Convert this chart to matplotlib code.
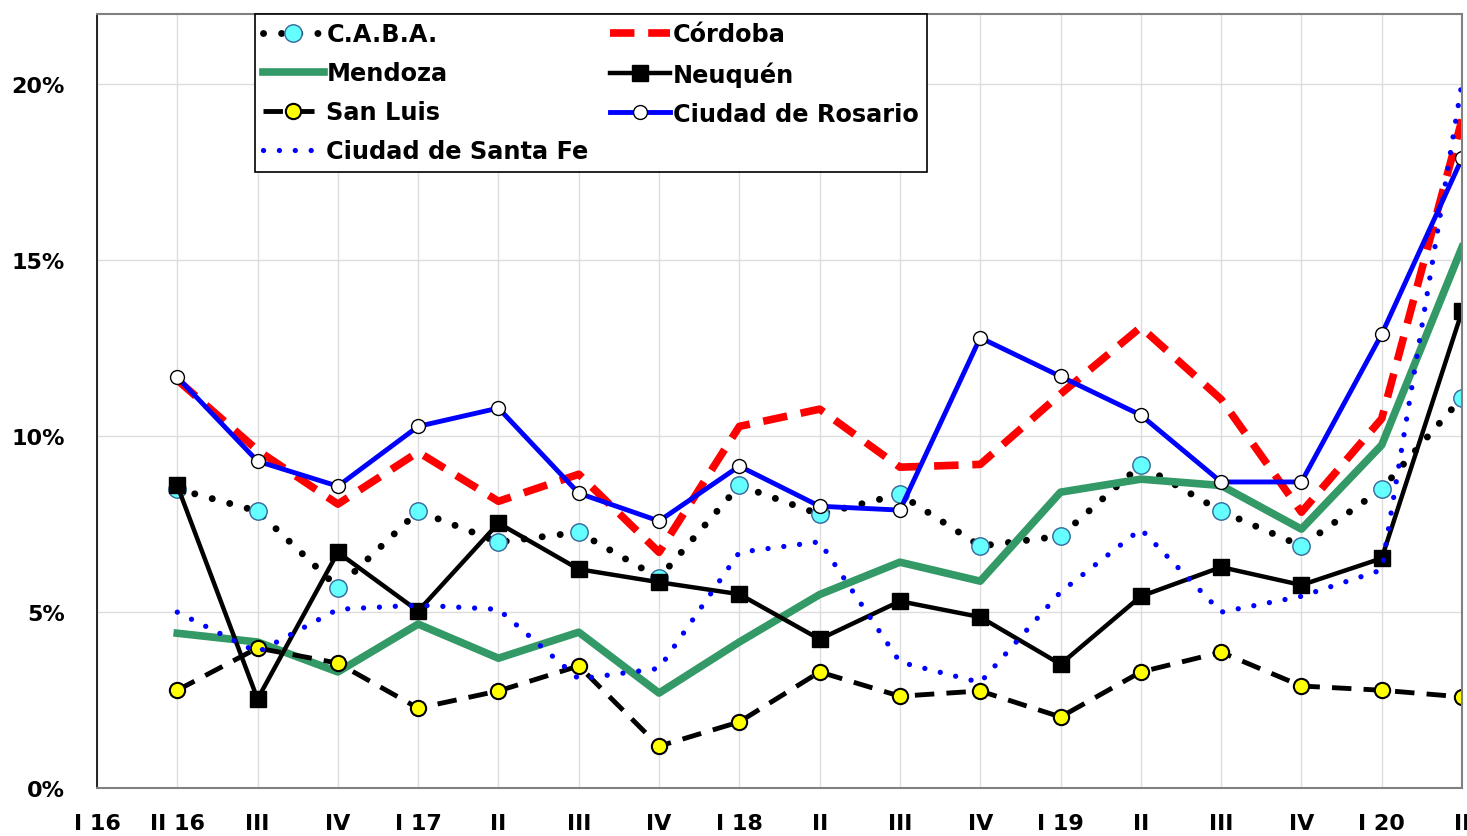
import numpy as np
import matplotlib
matplotlib.use('Agg')
import matplotlib.pyplot as plt
from matplotlib.ticker import FuncFormatter

# x categories (quarters)
quarters = ['I 16', 'II 16', 'III', 'IV', 'I 17', 'II', 'III', 'IV', 'I 18',
            'II', 'III', 'IV', 'I 19', 'II', 'III', 'IV', 'I 20', 'II']

# series values (%), from II 16 to II 20
caba = [8.5, 7.87, 5.7, 7.87, 6.99, 7.27, 5.97, 8.6, 7.78, 8.35, 6.88, 7.16, 9.18, 7.87, 6.88, 8.5, 11.1]
cordoba = [11.6, 9.6, 8.07, 9.55, 8.15, 8.92, 6.7, 10.28, 10.77, 9.12, 9.2, 11.2, 13.1, 11.05, 7.84, 10.5, 19.0]
mendoza = [4.4, 4.15, 3.3, 4.66, 3.69, 4.43, 2.7, 4.15, 5.5, 6.42, 5.88, 8.41, 8.78, 8.6, 7.36, 9.75, 15.37]
neuquen = [8.6, 2.53, 6.7, 5.03, 7.53, 6.22, 5.85, 5.51, 4.23, 5.31, 4.86, 3.52, 5.45, 6.28, 5.77, 6.53, 13.55]
san_luis = [2.78, 3.98, 3.55, 2.27, 2.76, 3.47, 1.19, 1.88, 3.3, 2.61, 2.76, 2.02, 3.3, 3.86, 2.9, 2.78, 2.59]
rosario = [11.68, 9.29, 8.58, 10.28, 10.8, 8.38, 7.59, 9.15, 8.01, 7.9, 12.8, 11.7, 10.6, 8.7, 8.7, 12.9, 17.9]
santa_fe = [5.0, 3.86, 5.08, 5.2, 5.08, 3.1, 3.4, 6.7, 7.0, 3.58, 3.0, 5.57, 7.36, 5.0, 5.45, 6.2, 20.05]

x = np.arange(1, len(quarters))

fig = plt.figure(figsize=(14.67, 8.37), dpi=100)
ax = fig.add_axes([0.0661, 0.0573, 0.9305, 0.9247])

h_caba, = ax.plot(x, caba, color='black', lw=5, linestyle=(0, (0.01, 2.6)),
                  dash_capstyle='round', marker='o', ms=12.5, mfc='#66FFFF',
                  mec='#336699', mew=1, label='C.A.B.A.')
h_cba, = ax.plot(x, cordoba, color='#FF0000', lw=5.5, linestyle=(0, (3.2, 1.8)),
                 label='Córdoba')
h_mza, = ax.plot(x, mendoza, color='#339966', lw=5.5, label='Mendoza')
h_nqn, = ax.plot(x, neuquen, color='black', lw=3.2, marker='s', ms=12,
                 mfc='black', mec='black', label='Neuquén')
h_sl, = ax.plot(x, san_luis, color='black', lw=3.5, linestyle=(0, (4, 2.5)),
                marker='o', ms=11, mfc='#FFFF00', mec='black', mew=1.5,
                label='San Luis')
h_ros, = ax.plot(x, rosario, color='#0000FF', lw=3.5, marker='o', ms=10,
                 mfc='white', mec='black', mew=1, label='Ciudad de Rosario')
h_sf, = ax.plot(x, santa_fe, color='#0000FF', lw=3.8, linestyle=(0, (0.01, 3.0)),
                dash_capstyle='round', label='Ciudad de Santa Fe')

ax.set_xlim(0, len(quarters) - 1)
ax.set_ylim(0, 22)
ax.set_xticks(np.arange(len(quarters)))
ax.set_xticklabels(quarters)
ax.set_yticks([0, 5, 10, 15, 20])
ax.yaxis.set_major_formatter(FuncFormatter(lambda v, p: '%d%%' % v))
ax.tick_params(axis='both', length=0, labelsize=16)
ax.tick_params(axis='x', pad=18)
ax.tick_params(axis='y', pad=23)
for lab in ax.get_xticklabels() + ax.get_yticklabels():
    lab.set_fontweight('bold')

ax.grid(True, color='#DDDDDD', lw=1)
ax.set_axisbelow(True)
for s in ['top', 'right', 'bottom']:
    ax.spines[s].set_color('#808080')
    ax.spines[s].set_linewidth(1.5)
ax.spines['left'].set_color('black')
ax.spines['left'].set_linewidth(1.2)

# legend laid out row-wise like the original (matplotlib fills columns)
handles = [h_caba, h_mza, h_sl, h_sf, h_cba, h_nqn, h_ros]
leg = ax.legend(handles=handles, labels=[h.get_label() for h in handles],
                ncol=2, loc='upper left', bbox_to_anchor=(0.1158, 1.0),
                borderaxespad=0, fancybox=False, edgecolor='black',
                framealpha=1, prop={'weight': 'bold', 'size': 17.3},
                handlelength=2.5, handletextpad=0.12, labelspacing=0.62,
                columnspacing=0.9, borderpad=0.35)
leg.get_frame().set_linewidth(1.2)

fig.savefig('out.png', dpi=100)
